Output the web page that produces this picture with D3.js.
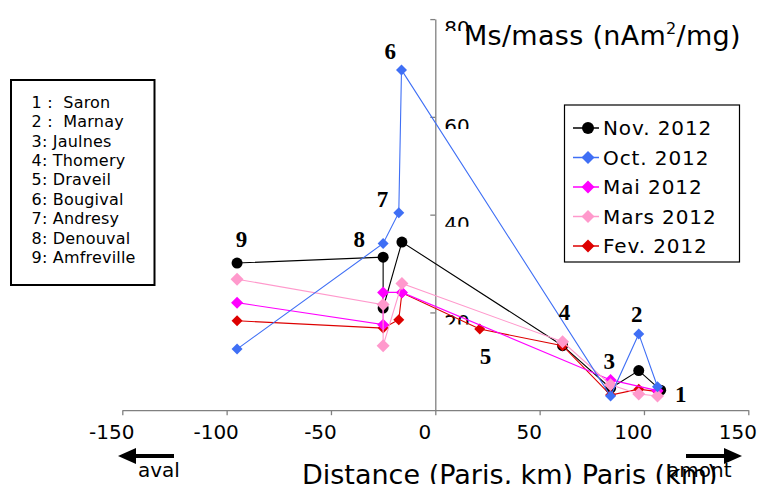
<!DOCTYPE html>
<html>
<head>
<meta charset="utf-8">
<script src="https://cdn.jsdelivr.net/npm/d3@7"></script>
<style>
body { margin: 0; background: #fff; }
svg { display: block; }
</style>
</head>
<body>
<div id="chart"></div>
<script>
// site list (left box)
var siteNames = ["1 :  Saron", "2 :  Marnay", "3: Jaulnes", "4: Thomery", "5: Draveil",
                 "6: Bougival", "7: Andresy", "8: Denouval", "9: Amfreville"];

// site numbers written next to the points, in data units (km, Ms/mass)
var siteLabels = ["1", "2", "3", "4", "5", "6", "7", "8", "9"];
var siteLabelKm = [117.6, 96.6, 83.4, 61.9, 24.1, -21.6, -25.3, -36.4, -92.9];
var siteLabelMs = [3.3, 19.6, 10.1, 20.0, 11.1, 73.5, 43.2, 35.0, 35.0];

var seriesNames = ["Nov. 2012", "Oct. 2012", "Mai 2012", "Mars 2012", "Fev. 2012"];

// distance to Paris (km) and Ms/mass (nAm2/mg) per campaign
var novDist = [-95, -25, -25, -16, 61, 84, 97.5, 108];
var novMs   = [30.1, 31.3, 20.9, 34.4, 13.2, 4.5, 8.1, 4.1];

var octDist = [-95, -25, -17.5, -16.2, 84, 97.5, 106.5];
var octMs   = [12.5, 34.1, 40.4, 69.6, 2.9, 15.6, 4.8];

var maiDist = [-95, -25, -25, -16, 84, 106.5];
var maiMs   = [22.0, 17.5, 24.1, 24.1, 6.2, 4.0];

var marsDist = [-95, -25, -25, -16, 61, 84, 97.5, 106.5];
var marsMs   = [26.8, 21.6, 13.2, 25.9, 14.0, 5.2, 3.3, 2.9];

var fevDist = [-95, -25, -17.5, -16, 21.3, 61, 84, 97.5, 106.5];
var fevMs   = [18.3, 16.8, 18.5, 24.0, 16.6, 13.2, 3.1, 4.3, 3.8];

var xTicks = [-150, -100, -50, 0, 50, 100, 150];
var yTicks = [20, 40, 60, 80];

function init(){
    var w = 758;
    var h = 484;

    var series = [
        {name: seriesNames[0], dist: novDist, ms: novMs, color: "#000000", shape: "circle", r: 5.5},
        {name: seriesNames[1], dist: octDist, ms: octMs, color: "#3f6ff5", shape: "diamond", r: 5.5},
        {name: seriesNames[2], dist: maiDist, ms: maiMs, color: "#ff00ff", shape: "diamond", r: 6},
        {name: seriesNames[3], dist: marsDist, ms: marsMs, color: "#ff99cc", shape: "diamond", r: 6.5},
        {name: seriesNames[4], dist: fevDist, ms: fevMs, color: "#dd0000", shape: "diamond", r: 5.5}
    ];
    // drawing order seen in the picture
    var drawOrder = [0, 4, 2, 3, 1];

    var svg = d3.select("#chart")
                .append("svg")
                .attr("width", w)
                .attr("height", h)
                .style("font-family", "'DejaVu Sans', sans-serif");

    svg.append("rect").attr("width", w).attr("height", h).attr("fill", "#fff");

    var x = d3.scaleLinear().domain([-150, 150]).range([122.3, 748.3]);
    var y = d3.scaleLinear().domain([0, 80]).range([410.2, 19.1]);

    var axisColor = "#808080";

    // x axis (plain hyphen for negatives, like the original)
    var xAxis = svg.append("g")
        .attr("transform", "translate(0," + y(0) + ")")
        .call(d3.axisBottom(x).tickValues(xTicks).tickSize(5).tickSizeOuter(0)
              .tickFormat(function(d) { return String(d); }));
    xAxis.select(".domain").attr("stroke", axisColor).attr("stroke-width", 1.3);
    xAxis.selectAll(".tick line").attr("stroke", axisColor).attr("stroke-width", 1.3);
    xAxis.selectAll(".tick text")
        .attr("font-size", 20)
        .attr("font-family", "'DejaVu Sans', sans-serif")
        .attr("fill", "#000")
        .attr("dx", -11)
        .attr("y", 15)
        .attr("dy", "0.71em");

    // y axis
    var yAxis = svg.append("g")
        .attr("transform", "translate(" + x(0) + ",0)")
        .call(d3.axisLeft(y).tickValues(yTicks).tickSize(5).tickSizeOuter(0).tickFormat(""));
    yAxis.select(".domain").attr("stroke", axisColor).attr("stroke-width", 1.3);
    yAxis.selectAll(".tick line").attr("stroke", axisColor).attr("stroke-width", 1.3);

    // y tick labels sit inside the plot and are cut at the bottom
    var defs = svg.append("defs");
    yTicks.forEach(function(t, i) {
        defs.append("clipPath")
            .attr("id", "yclip" + i)
            .append("rect")
            .attr("x", x(0) + 2)
            .attr("y", y(t) - 2)
            .attr("width", 40)
            .attr("height", 14);
        svg.append("text")
            .attr("clip-path", "url(#yclip" + i + ")")
            .attr("x", x(0) + 9)
            .attr("y", y(t) + 16.2)
            .attr("font-size", 20)
            .attr("fill", "#000")
            .text(t);
    });

    var diamond = function(r) {
        return "M0," + (-r) + "L" + r + ",0L0," + r + "L" + (-r) + ",0Z";
    };

    // series lines and markers
    drawOrder.forEach(function(k) {
        var s = series[k];
        var pts = s.dist.map(function(d, i) { return [d, s.ms[i]]; });
        var line = d3.line()
            .x(function(d) { return x(d[0]); })
            .y(function(d) { return y(d[1]); });
        var g = svg.append("g");
        g.append("path")
            .datum(pts)
            .attr("d", line)
            .attr("fill", "none")
            .attr("stroke", s.color)
            .attr("stroke-width", 1.1);
        if (s.shape == "circle") {
            g.selectAll("circle")
                .data(pts)
                .enter()
                .append("circle")
                .attr("cx", function(d) { return x(d[0]); })
                .attr("cy", function(d) { return y(d[1]); })
                .attr("r", s.r)
                .attr("fill", s.color);
        } else {
            g.selectAll("path.m")
                .data(pts)
                .enter()
                .append("path")
                .attr("class", "m")
                .attr("d", diamond(s.r))
                .attr("transform", function(d) { return "translate(" + x(d[0]) + "," + y(d[1]) + ")"; })
                .attr("fill", s.color);
        }
    });

    // site numbers
    svg.selectAll("text.site")
        .data(siteLabels)
        .enter()
        .append("text")
        .attr("class", "site")
        .attr("x", function(d, i) { return x(siteLabelKm[i]); })
        .attr("y", function(d, i) { return y(siteLabelMs[i]) + 7.8; })
        .attr("text-anchor", "middle")
        .attr("font-family", "'Liberation Serif', serif")
        .attr("font-weight", "bold")
        .attr("font-size", 23)
        .attr("fill", "#000")
        .text(function(d) { return d; });

    // y axis title
    var yt = svg.append("text")
        .attr("x", 464)
        .attr("y", 45)
        .attr("font-size", 27)
        .attr("letter-spacing", 0.3)
        .attr("fill", "#000");
    yt.append("tspan").text("Ms/mass (nAm");
    yt.append("tspan").attr("font-size", 16).attr("dy", -11).text("2");
    yt.append("tspan").attr("dy", 11).text("/mg)");

    // x axis title
    svg.append("text")
        .attr("x", 302)
        .attr("y", 484)
        .attr("font-size", 27)
        .attr("fill", "#000")
        .text("Distance (Paris, km) Paris (km)");

    // aval / amont arrows
    var arrowY = 456;
    svg.append("line")
        .attr("x1", 130).attr("x2", 174)
        .attr("y1", arrowY).attr("y2", arrowY)
        .attr("stroke", "#000").attr("stroke-width", 4);
    svg.append("path")
        .attr("d", "M118," + arrowY + "L136," + (arrowY - 8) + "L136," + (arrowY + 8) + "Z")
        .attr("fill", "#000");
    svg.append("line")
        .attr("x1", 686).attr("x2", 730)
        .attr("y1", arrowY).attr("y2", arrowY)
        .attr("stroke", "#000").attr("stroke-width", 4);
    svg.append("path")
        .attr("d", "M742," + arrowY + "L724," + (arrowY - 8) + "L724," + (arrowY + 8) + "Z")
        .attr("fill", "#000");
    svg.append("text")
        .attr("x", 138).attr("y", 477)
        .attr("font-size", 20).attr("fill", "#000")
        .text("aval");
    svg.append("text")
        .attr("x", 667).attr("y", 477)
        .attr("font-size", 20).attr("fill", "#000")
        .text("amont");

    // left box with site names
    svg.append("rect")
        .attr("x", 11).attr("y", 80)
        .attr("width", 143.5).attr("height", 205)
        .attr("fill", "#fff")
        .attr("stroke", "#000")
        .attr("stroke-width", 2);
    svg.selectAll("text.sname")
        .data(siteNames)
        .enter()
        .append("text")
        .attr("class", "sname")
        .attr("x", 31.5)
        .attr("y", function(d, i) { return 107.7 + i * 19.4; })
        .attr("font-size", 16)
        .attr("letter-spacing", 0.2)
        .attr("fill", "#000")
        .style("white-space", "pre")
        .text(function(d) { return d; });

    // legend
    svg.append("rect")
        .attr("x", 564.5).attr("y", 105)
        .attr("width", 175).attr("height", 157)
        .attr("fill", "#fff")
        .attr("stroke", "#000")
        .attr("stroke-width", 1.2);
    var leg = svg.selectAll("g.leg")
        .data(series)
        .enter()
        .append("g")
        .attr("class", "leg")
        .attr("transform", function(d, i) { return "translate(0," + (135 + i * 29.5) + ")"; });
    leg.append("line")
        .attr("x1", 573).attr("x2", 599)
        .attr("y1", -7).attr("y2", -7)
        .attr("stroke", function(d) { return d.color; })
        .attr("stroke-width", 1.5);
    leg.each(function(d) {
        var g = d3.select(this);
        if (d.shape == "circle") {
            g.append("circle").attr("cx", 588).attr("cy", -7).attr("r", 6).attr("fill", d.color);
        } else {
            g.append("path")
                .attr("d", diamond(6.5))
                .attr("transform", "translate(588,-7)")
                .attr("fill", d.color);
        }
    });
    leg.append("text")
        .attr("x", 603)
        .attr("y", 0)
        .attr("font-size", 20)
        .attr("letter-spacing", 0.9)
        .attr("fill", "#000")
        .text(function(d) { return d.name; });
}

window.onload = init;
</script>
</body>
</html>
